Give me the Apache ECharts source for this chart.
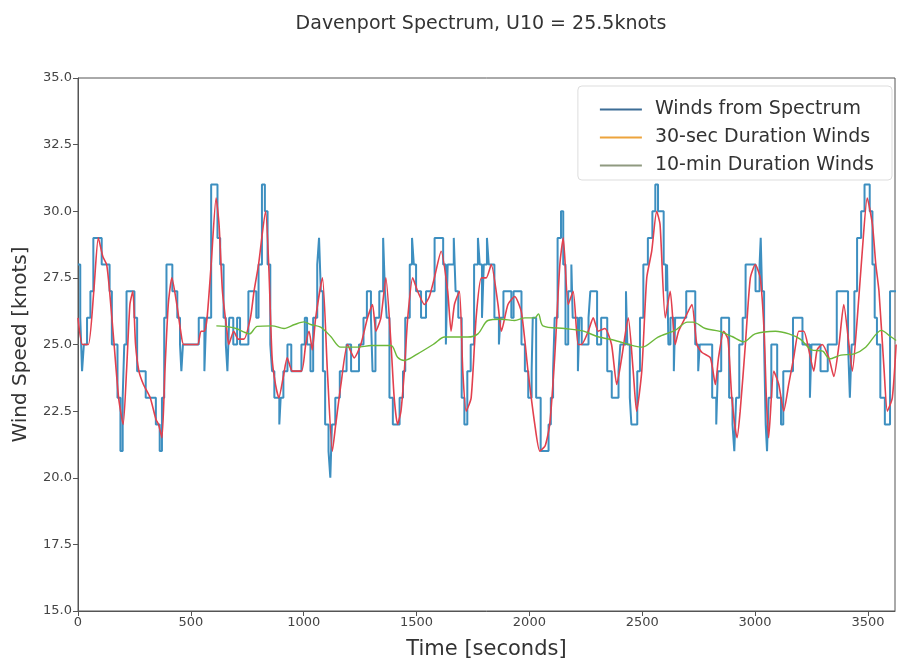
<!DOCTYPE html>
<html>
<head>
<meta charset="utf-8">
<script src="https://cdn.jsdelivr.net/npm/echarts@6/dist/echarts.min.js"></script>
<style>
  html, body { margin: 0; padding: 0; background: #fff; }
  #chart { width: 900px; height: 659px; }
</style>
</head>
<body>
<div id="chart"></div>
<script>
// legend names
const seriesNames = ['Winds from Spectrum', '30-sec Duration Winds', '10-min Duration Winds'];

// [time (s), wind speed (knots)]
const spectrumWinds = [
  [0,28],[10,26],[18,24],[26,25],[40,26],[55,27],[68,29],[105,28],[140,27],[150,25],[175,23],[188,21],[198,23],[205,25],[215,27],
  [250,26],[262,24],[300,23],[345,22],[362,21],[372,23],[382,26],[392,28],[418,27],[440,26],[452,25],[458,24],[465,25],[535,26],
  [560,24],[568,26],[590,31],[618,29],[630,28],[645,26],[655,25],[662,24],[670,26],[688,25],[705,26],[718,25],[755,27],[790,26],
  [800,28],[815,31],[828,30],[840,28],[852,25],[860,24],[870,23],[892,22],[898,23],[910,24],[928,25],[945,24],[990,25],[1005,26],
  [1015,25],[1030,24],[1042,26],[1060,28],[1068,29],[1076,27],[1085,24],[1095,22],[1110,21],[1118,20],[1125,22],[1140,23],[1160,24],
  [1190,25],[1210,24],[1245,25],[1265,26],[1280,27],[1298,26],[1305,24],[1318,26],[1335,27],[1352,29],[1360,27],[1368,26],[1380,23],
  [1395,22],[1425,23],[1440,24],[1450,26],[1470,28],[1480,29],[1488,28],[1498,27],[1520,26],[1542,27],[1580,29],[1618,28],[1630,25],
  [1638,28],[1665,29],[1673,27],[1685,26],[1700,23],[1712,22],[1725,24],[1740,25],[1755,28],[1772,29],[1780,28],[1790,26],[1798,28],
  [1812,29],[1820,28],[1845,26],[1865,25],[1872,26],[1885,27],[1920,26],[1930,27],[1965,25],[1980,24],[1995,23],[2010,24],[2015,26],
  [2030,23],[2050,21],[2085,22],[2095,23],[2105,24],[2112,26],[2125,29],[2140,30],[2150,28],[2160,25],[2172,27],[2186,28],[2192,26],
  [2215,24],[2222,26],[2232,25],[2262,26],[2270,27],[2300,25],[2318,26],[2345,24],[2365,23],[2395,24],[2403,25],[2428,27],[2434,25],
  [2445,23],[2452,22],[2478,24],[2490,26],[2505,28],[2525,29],[2545,30],[2558,31],[2570,30],[2595,28],[2605,27],[2610,28],[2616,25],
  [2625,26],[2640,24],[2646,26],[2695,27],[2735,25],[2748,24],[2755,25],[2810,23],[2828,22],[2835,24],[2850,26],[2885,23],[2900,22],
  [2908,21],[2916,23],[2930,25],[2945,26],[2958,28],[3002,27],[3020,28],[3025,29],[3031,27],[3040,25],[3047,22],[3053,21],[3060,23],
  [3072,25],[3098,23],[3115,22],[3125,24],[3168,26],[3210,25],[3243,23],[3250,25],[3290,24],[3322,25],[3362,27],[3412,25],[3420,23],
  [3428,25],[3440,27],[3452,29],[3470,30],[3485,31],[3508,30],[3520,28],[3530,26],[3540,25],[3555,23],[3575,22],[3598,27],[3625,27]
];

const sec30Winds = [
  [0,26],[20,25],[46,25],[70,27],[90,29],[110,28.3],[127,28],[140,27],[160,25],[180,23],[200,22],[215,24],[230,26.5],[243,27],
  [255,25],[270,24],[290,23.5],[320,23],[345,22.2],[357,22],[372,21.5],[385,24],[400,26.5],[416,27.5],[438,26.5],[455,25.5],
  [468,25],[500,25],[530,25],[545,25.5],[560,25.5],[572,26],[590,28],[612,30.5],[625,29.5],[640,27],[660,25.5],[668,25],
  [690,25.5],[710,25.2],[735,25.2],[764,26],[780,27],[800,28],[831,30],[845,28],[860,24.5],[875,23.5],[890,23],[910,23.8],
  [927,24.5],[950,24],[990,24],[1009,25],[1024,25.5],[1038,24.8],[1053,26],[1083,27.5],[1105,24],[1127,21],[1142,22],
  [1165,23.5],[1194,25],[1224,24.5],[1253,25],[1283,26],[1305,26.5],[1320,25.5],[1342,26],[1364,27.5],[1387,25],[1401,23],
  [1416,22],[1431,22.5],[1446,24],[1461,26],[1483,27.5],[1505,27],[1535,26.5],[1557,26.8],[1579,27.5],[1609,28.5],[1638,27],
  [1653,25.5],[1668,26.5],[1690,27],[1705,24],[1720,22.5],[1742,23],[1764,26],[1787,27.5],[1809,27.5],[1831,28],[1861,26.5],
  [1876,25.5],[1905,26.5],[1935,26.8],[1965,26.2],[1994,24],[2024,22],[2046,21],[2070,21.2],[2090,22],[2112,24.5],[2135,28],
  [2150,29],[2172,26.5],[2194,27],[2216,25],[2231,25],[2261,25.5],[2283,26],[2305,25.5],[2335,25.6],[2364,25],[2387,23.5],
  [2409,24.5],[2438,26],[2460,24],[2475,22.5],[2498,24],[2520,27.5],[2542,28.5],[2564,30],[2579,29.5],[2602,26],[2624,27],
  [2646,25],[2661,25.5],[2690,26],[2720,26.5],[2742,25],[2765,24.7],[2802,24.5],[2824,23.5],[2838,24.5],[2861,25.5],[2880,25.2],
  [2897,23],[2920,21.5],[2934,22.5],[2957,25],[2979,27.5],[3001,28],[3023,27.5],[3040,25.5],[3050,23],[3060,21.5],[3083,24],
  [3105,23.5],[3127,22.5],[3149,23.5],[3171,24.5],[3194,25.5],[3216,25.5],[3238,24.8],[3260,24],[3275,24.8],[3297,25],
  [3327,24.5],[3349,23.8],[3372,25],[3393,26.5],[3416,25],[3431,24],[3453,26],[3475,28.5],[3497,30.5],[3520,29.5],[3535,28],
  [3549,27],[3572,24],[3586,22.5],[3608,23],[3625,25]
];

const min10Winds = [
  [613,25.7],[650,25.68],[700,25.6],[740,25.45],[760,25.4],[794,25.68],[860,25.7],[913,25.6],[960,25.75],[1001,25.85],
  [1031,25.75],[1075,25.65],[1120,25.3],[1164,24.9],[1238,24.9],[1300,24.96],[1387,24.96],[1416,24.52],[1446,24.4],[1505,24.65],
  [1579,25.03],[1624,25.28],[1727,25.28],[1772,25.4],[1816,25.9],[1876,25.95],[1935,25.9],[1980,26],[2024,26],[2040,26.15],
  [2060,25.7],[2157,25.6],[2240,25.5],[2300,25.3],[2380,25.15],[2498,24.9],[2570,25.28],[2645,25.53],[2700,25.84],[2725,25.84],
  [2780,25.6],[2840,25.5],[2898,25.3],[2950,25.1],[3000,25.4],[3090,25.5],[3150,25.4],[3200,25.2],[3250,24.8],[3300,24.75],
  [3330,24.46],[3380,24.6],[3440,24.65],[3490,24.9],[3560,25.53],[3600,25.3],[3625,25.15]
];

const font = 'DejaVu Sans';
const myChart = echarts.init(document.getElementById('chart'));
myChart.setOption({
  animation: false,
  backgroundColor: '#fff',
  title: {
    text: 'Davenport Spectrum, U10 = 25.5knots',
    left: 476,
    textAlign: 'center',
    top: 10,
    textStyle: { fontFamily: font, fontSize: 19, fontWeight: 'normal', color: '#333' }
  },
  grid: {
    left: 78, right: 5, top: 78, bottom: 48,
    outerBoundsMode: 'none',
    show: true, borderColor: '#555', borderWidth: 1
  },
  legend: {
    orient: 'vertical',
    right: 8,
    top: 86,
    padding: [14, 18, 5, 22],
    itemGap: 9,
    itemWidth: 42,
    itemHeight: 2,
    icon: 'rect',
    borderColor: '#ddd',
    borderWidth: 1,
    borderRadius: 4,
    backgroundColor: 'rgba(255,255,255,0.8)',
    textStyle: { fontFamily: font, fontSize: 19, color: '#333', padding: [0, 0, 0, 8] },
    data: [
      { name: seriesNames[0], itemStyle: { color: '#3c6d96' } },
      { name: seriesNames[1], itemStyle: { color: '#eda43c' } },
      { name: seriesNames[2], itemStyle: { color: '#8f9a80' } }
    ]
  },
  xAxis: {
    type: 'value',
    min: 0, max: 3620, interval: 500,
    name: 'Time [seconds]',
    nameLocation: 'middle',
    nameGap: 28,
    nameTextStyle: { fontFamily: font, fontSize: 21, color: '#333' },
    axisLine: { lineStyle: { color: '#555' } },
    axisTick: { length: 5, lineStyle: { color: '#555' } },
    axisLabel: { fontFamily: font, fontSize: 13, color: '#444', margin: 5, showMaxLabel: false, formatter: (v) => String(v) },
    splitLine: { show: false }
  },
  yAxis: {
    type: 'value',
    min: 15, max: 35, interval: 2.5,
    name: 'Wind Speed [knots]',
    nameLocation: 'middle',
    nameGap: 47,
    nameTextStyle: { fontFamily: font, fontSize: 20, color: '#333' },
    axisLine: { show: true, lineStyle: { color: '#555' } },
    axisTick: { show: true, length: 5, lineStyle: { color: '#555' } },
    axisLabel: { fontFamily: font, fontSize: 13, color: '#444', margin: 6, formatter: (v) => v.toFixed(1) },
    splitLine: { show: false }
  },
  series: [
    {
      name: seriesNames[0],
      type: 'line',
      step: 'end',
      data: spectrumWinds,
      showSymbol: false,
      lineStyle: { color: '#3d8fc0', width: 2 },
      itemStyle: { color: '#3d8fc0' },
      z: 2
    },
    {
      name: seriesNames[1],
      type: 'line',
      data: sec30Winds,
      smooth: 0.2,
      showSymbol: false,
      lineStyle: { color: '#e2404e', width: 1.6 },
      itemStyle: { color: '#e2404e' },
      z: 3
    },
    {
      name: seriesNames[2],
      type: 'line',
      data: min10Winds,
      smooth: 0.3,
      showSymbol: false,
      lineStyle: { color: '#6cb83a', width: 1.4 },
      itemStyle: { color: '#6cb83a' },
      z: 4
    }
  ]
});
</script>
</body>
</html>
